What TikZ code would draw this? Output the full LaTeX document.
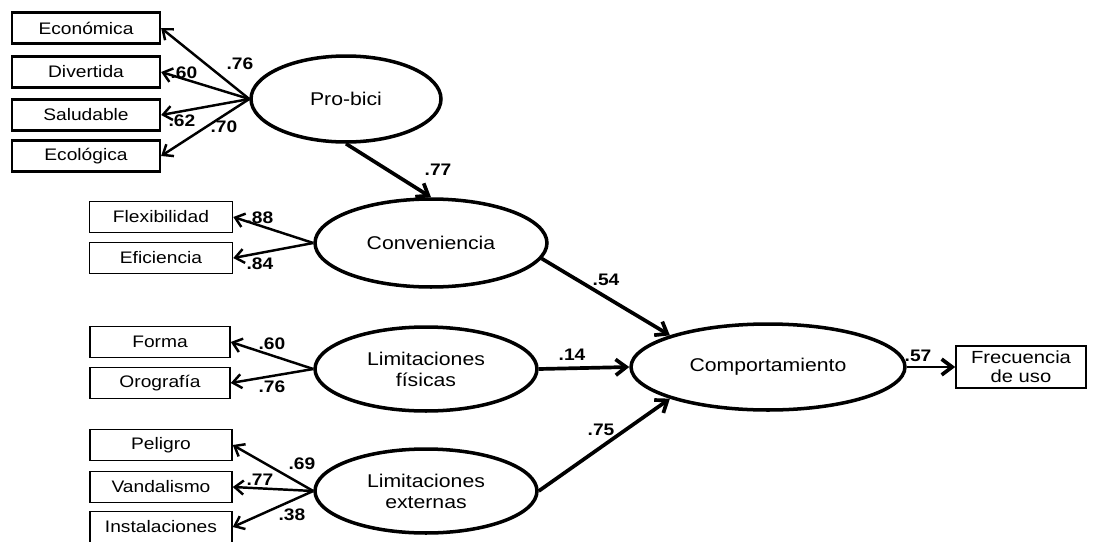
\documentclass[tikz,border=0pt]{standalone}
\usepackage{fontspec}
\setmainfont{Liberation Sans}[FakeStretch=1.15]
\usetikzlibrary{arrows.meta}
\usetikzlibrary{shapes}

\begin{document}
\begin{tikzpicture}[x=0.02cm, y=-0.02cm,
    obs/.style={draw, rectangle, line width=0.9pt, minimum height=0.62cm, inner sep=1pt, font=\fontsize{9.5}{10.5}\selectfont},
    lat/.style={draw, ellipse, line width=2pt, inner sep=0pt, align=center, font=\fontsize{10.5}{12}\selectfont},
    load/.style={line width=1.4pt, -{Straight Barb[length=5pt, width=8pt, line width=1.4pt]}},
    reg/.style={line width=2.1pt, -{Straight Barb[length=6pt, width=9pt, line width=2.1pt]}},
    lbl/.style={inner sep=0pt, font=\bfseries\fontsize{9.5}{10.5}\selectfont}]

    \useasboundingbox (0,0) rectangle (1094,541);

    % Indicator boxes
    \node[obs, line width=1.3pt, minimum width=2.96cm] (econ) at (86,28) {Económica};
    \node[obs, line width=1.3pt, minimum width=2.96cm] (divert) at (86,72) {Divertida};
    \node[obs, line width=1.3pt, minimum width=2.96cm] (salud) at (86,115) {Saludable};
    \node[obs, line width=1.3pt, minimum width=2.96cm] (ecol) at (86,156) {Ecológica};
    \node[obs, minimum width=2.86cm] (flex) at (161,217) {Flexibilidad};
    \node[obs, minimum width=2.86cm] (efic) at (161,258) {Eficiencia};
    \node[obs, minimum width=2.8cm] (forma) at (160,342) {Forma};
    \node[obs, minimum width=2.8cm] (orog) at (160,383) {Orografía};
    \node[obs, minimum width=2.84cm] (peligro) at (161,445) {Peligro};
    \node[obs, minimum width=2.84cm] (vandal) at (161,487) {Vandalismo};
    \node[obs, minimum width=2.84cm] (instal) at (161,527) {Instalaciones};
    \node[obs, minimum width=2.6cm, minimum height=0.84cm, align=center, font=\fontsize{10}{11}\selectfont] (frec) at (1021,367) {Frecuencia\\de uso};

    % Latent variables
    \node[lat, minimum width=3.8cm, minimum height=1.72cm] (probici) at (346,99) {Pro-bici};
    \node[lat, minimum width=4.64cm, minimum height=1.76cm] (conv) at (431,243) {Conveniencia};
    \node[lat, minimum width=4.44cm, minimum height=1.68cm] (limfis) at (426,369) {Limitaciones\\físicas};
    \node[lat, minimum width=4.44cm, minimum height=1.68cm] (limext) at (426,491) {Limitaciones\\externas};
    \node[lat, minimum width=5.48cm, minimum height=1.72cm] (comp) at (768,367) {Comportamiento};

    % Loadings
    \draw[load] (probici.west) -- (econ.east);
    \draw[load] (probici.west) -- (divert.east);
    \draw[load] (probici.west) -- (salud.east);
    \draw[load] (probici.west) -- (ecol.east);
    \draw[load] (conv.west) -- (flex.east);
    \draw[load] (conv.west) -- (efic.east);
    \draw[load] (limfis.west) -- (forma.east);
    \draw[load] (limfis.west) -- (orog.east);
    \draw[load] (limext.west) -- (peligro.east);
    \draw[load] (limext.west) -- (vandal.east);
    \draw[load] (limext.west) -- (instal.east);

    % Structural paths
    \draw[reg] (probici.south) -- (conv.north);
    \draw[reg] (conv.-8) -- (comp.north west);
    \draw[reg] (limfis.east) -- (comp.west);
    \draw[reg] (limext.east) -- (comp.south west);
    \draw[reg, line width=1.6pt] (comp.east) -- (frec.west);

    % Coefficients
    \node[lbl] (c1) at (240,64) {.76};
    \node[lbl] (c2) at (184,73) {.60};
    \node[lbl] (c3) at (182,121) {.62};
    \node[lbl] (c4) at (224,127) {.70};
    \node[lbl] (c5) at (438,170) {.77};
    \node[lbl] (c6) at (260,218) {.88};
    \node[lbl] (c7) at (260,264) {.84};
    \node[lbl] (c8) at (272,344) {.60};
    \node[lbl] (c9) at (272,387) {.76};
    \node[lbl] (c10) at (302,464) {.69};
    \node[lbl] (c11) at (260,480) {.77};
    \node[lbl] (c12) at (292,515) {.38};
    \node[lbl] (c13) at (606,280) {.54};
    \node[lbl] (c14) at (572,355) {.14};
    \node[lbl] (c15) at (601,430) {.75};
    \node[lbl] (c16) at (918,356) {.57};

\end{tikzpicture}
\end{document}
